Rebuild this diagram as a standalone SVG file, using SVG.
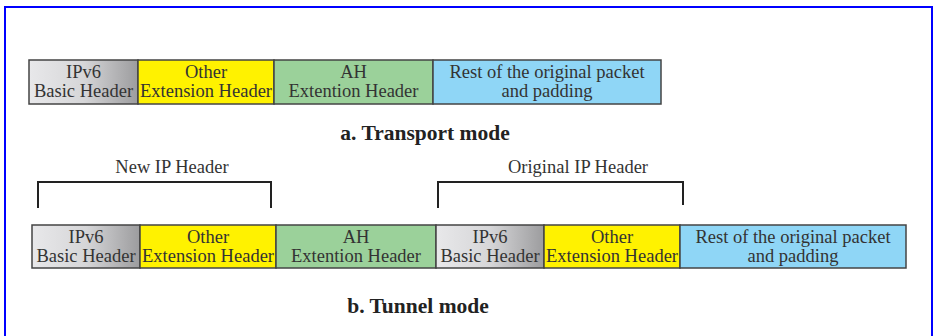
<svg xmlns="http://www.w3.org/2000/svg" width="935" height="336" viewBox="0 0 935 336">
<defs>
<linearGradient id="gray" x1="0" y1="0" x2="1" y2="0">
<stop offset="0" stop-color="#e8e8ea"/>
<stop offset="0.5" stop-color="#d6d6d8"/>
<stop offset="1" stop-color="#9c9c9e"/>
</linearGradient>
<style>
.box{stroke:#444;stroke-width:1.5}
.ipv6{fill:url(#gray)}
.oth{fill:#fff200}
.ah{fill:#9bd19a}
.rest{fill:#8fd6f6}
text{font-family:"Liberation Serif","Times New Roman",serif;font-size:18.5px;fill:#333;text-anchor:middle}
.cap{font-weight:bold;font-size:21.5px;fill:#222}
.br{fill:none;stroke:#222;stroke-width:2}
</style>
</defs>
<rect x="0" y="0" width="935" height="336" fill="#fff"/>
<rect x="5" y="7" width="927" height="340" fill="none" stroke="#0000ff" stroke-width="2"/>

<g id="a-ipv6"><rect class="box ipv6" x="29" y="60" width="109" height="44"/><text x="83.5" y="78">IPv6</text><text x="83.5" y="97">Basic Header</text></g>
<g id="a-other"><rect class="box oth" x="138" y="60" width="136" height="44"/><text x="206" y="78">Other</text><text x="206" y="97">Extension Header</text></g>
<g id="a-ah"><rect class="box ah" x="274" y="60" width="159" height="44"/><text x="353.5" y="78">AH</text><text x="353.5" y="97">Extention Header</text></g>
<g id="a-rest"><rect class="box rest" x="433" y="60" width="228" height="44"/><text x="547" y="78">Rest of the original packet</text><text x="547" y="97">and padding</text></g>
<text class="cap" x="425" y="140">a. Transport mode</text>

<g id="b-ipv6"><rect class="box ipv6" x="32" y="225" width="108" height="43"/><text x="86" y="243">IPv6</text><text x="86" y="262">Basic Header</text></g>
<g id="b-other"><rect class="box oth" x="140" y="225" width="136" height="43"/><text x="208" y="243">Other</text><text x="208" y="262">Extension Header</text></g>
<g id="b-ah"><rect class="box ah" x="276" y="225" width="160" height="43"/><text x="356" y="243">AH</text><text x="356" y="262">Extention Header</text></g>
<g id="b-ipv6-2"><rect class="box ipv6" x="436" y="225" width="108" height="43"/><text x="490" y="243">IPv6</text><text x="490" y="262">Basic Header</text></g>
<g id="b-other-2"><rect class="box oth" x="544" y="225" width="136" height="43"/><text x="612" y="243">Other</text><text x="612" y="262">Extension Header</text></g>
<g id="b-rest"><rect class="box rest" x="680" y="225" width="226" height="43"/><text x="793" y="243">Rest of the original packet</text><text x="793" y="262">and padding</text></g>

<g id="connectors">
<path class="br" d="M38,208 V182 H271 V208"/>
<path class="br" d="M438,208 V182 H683 V205"/>
</g>
<text x="172" y="173">New IP Header</text>
<text x="578" y="173">Original IP Header</text>
<text class="cap" x="418" y="313">b. Tunnel mode</text>
</svg>
